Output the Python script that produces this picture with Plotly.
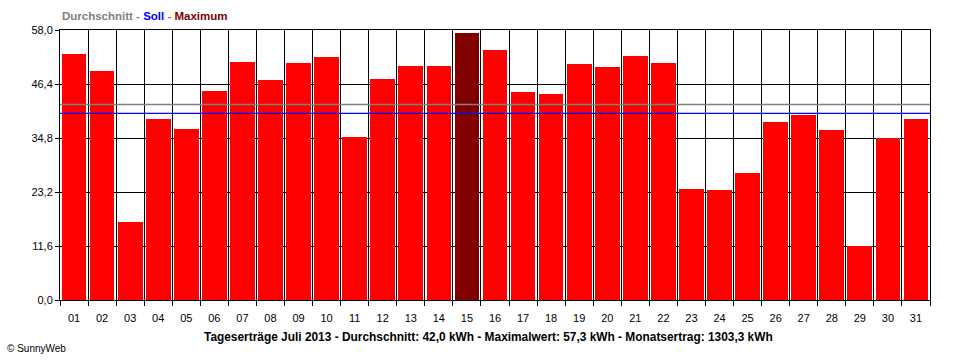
import plotly.graph_objects as go

days = [f"{d:02d}" for d in range(1, 32)]
ertrag = [52.8, 49.3, 16.8, 38.9, 36.7, 45.0, 51.2, 47.2, 51.0, 52.3,
          35.1, 47.5, 50.3, 50.3, 57.3, 53.8, 44.7, 44.2, 50.7, 50.1,
          52.5, 51.0, 23.8, 23.6, 27.2, 38.3, 39.8, 36.5, 11.6, 34.9, 38.9]
durchschnitt = 42.0
soll = 40.1
y_ticks = [0.0, 11.6, 23.2, 34.8, 46.4, 58.0]
y_labels = ["0,0", "11,6", "23,2", "34,8", "46,4", "58,0"]

x_pos = list(range(1, len(days) + 1))
max_val = max(ertrag)
colors = ["#800000" if v == max_val else "#FF0000" for v in ertrag]

FONT = "Liberation Sans"

fig = go.Figure()
fig.add_trace(go.Bar(x=x_pos, y=ertrag, marker=dict(color=colors, line=dict(width=0)),
                     width=0.88, hoverinfo="y"))

fig.add_shape(type="line", xref="x domain", x0=0, x1=1, yref="y", y0=durchschnitt, y1=durchschnitt,
              line=dict(color="#808080", width=1.4), layer="above")
fig.add_shape(type="line", xref="x domain", x0=0, x1=1, yref="y", y0=soll, y1=soll,
              line=dict(color="#0000FF", width=1.4), layer="above")

fig.update_layout(
    width=960, height=360,
    margin=dict(l=60, r=30, t=30, b=60),
    plot_bgcolor="white", paper_bgcolor="white",
    showlegend=False,
    bargap=0,
    font=dict(family=FONT, size=11, color="black"),
    xaxis=dict(
        range=[0.5, len(days) + 0.5],
        tickmode="array", tickvals=x_pos, ticktext=days,
        ticks="", showgrid=False, zeroline=False, ticklabelstandoff=8,
        showline=True, linecolor="black", linewidth=1, mirror=True,
        tickfont=dict(family=FONT, size=11, color="black"),
        minor=dict(tickmode="linear", tick0=0.5, dtick=1, showgrid=True,
                   gridcolor="black", gridwidth=1, ticks="outside", ticklen=5,
                   tickcolor="black"),
        fixedrange=True,
    ),
    yaxis=dict(
        range=[0, 58.0],
        tickmode="array", tickvals=y_ticks, ticktext=y_labels,
        ticks="outside", ticklen=4, tickcolor="black",
        showgrid=True, gridcolor="black", gridwidth=1, zeroline=False,
        showline=True, linecolor="black", linewidth=1, mirror=True,
        tickfont=dict(family=FONT, size=11, color="black"),
        fixedrange=True,
    ),
)

fig.add_annotation(
    xref="paper", yref="paper", x=0, y=1, xanchor="left", yanchor="bottom", yshift=6,
    text="<b><span style='color:#808080'>Durchschnitt - </span><span style='color:#0000FF'>Soll</span>"
         "<span style='color:#808080'> - </span><span style='color:#800000'>Maximum</span></b>",
    showarrow=False, font=dict(family=FONT, size=11.5),
)

fig.add_annotation(
    xref="paper", yref="paper", x=0.4925, y=0, xanchor="center", yanchor="middle", yshift=-37,
    text=(f"<b>Tageserträge Juli 2013 - Durchschnitt: {durchschnitt:.1f} kWh - "
          f"Maximalwert: {max_val:.1f} kWh - Monatsertrag: {sum(ertrag):.1f} kWh</b>").replace(".", ","),
    showarrow=False, font=dict(family=FONT, size=11.9, color="black"),
)

fig.add_annotation(
    xref="paper", yref="paper", x=-0.063, y=0, xanchor="left", yanchor="middle", yshift=-48,
    text="© SunnyWeb", showarrow=False, font=dict(family=FONT, size=10, color="black"),
)

fig.write_html("out.html", config={"displayModeBar": False},
               post_script="document.body.style.margin='0';")
